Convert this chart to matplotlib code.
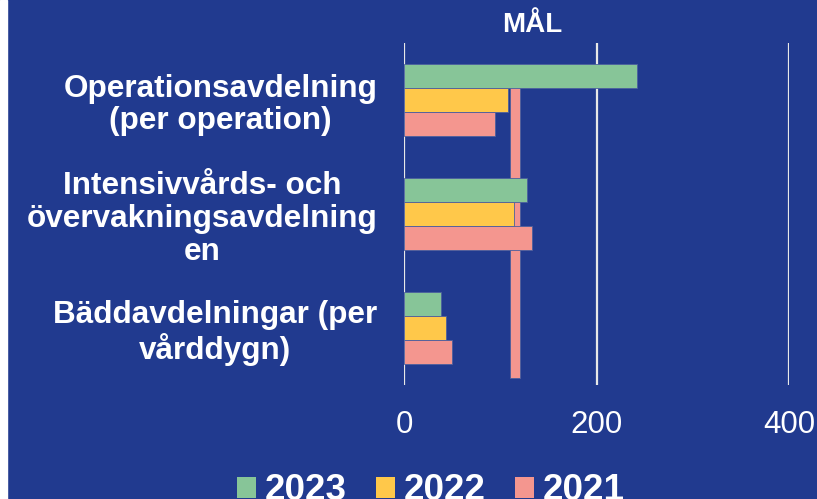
import numpy as np
import matplotlib
matplotlib.use("Agg")
import matplotlib.pyplot as plt
from matplotlib.patches import Patch, Rectangle
import matplotlib.transforms as mtransforms

# data
categories = ["Operationsavdelning\n(per operation)",
              "Intensivvårds- och\növervakningsavdelning\nen",
              "Bäddavdelningar (per\nvårddygn)"]
years = ["2023", "2022", "2021"]
v2023 = [242, 128, 38]
v2022 = [108, 114, 44]
v2021 = [95, 133, 50]
goal = 115
goal_label = "MÅL"
xticks = [0, 200, 400]

bg = "#213A8F"
colors = ["#87C598", "#FFC84A", "#F4968F"]

plt.rcParams["font.family"] = ["Liberation Sans", "DejaVu Sans"]

fig = plt.figure(figsize=(8.17, 4.99), dpi=100, facecolor=bg)
fig.patches.append(Rectangle((0, 0), 7 / 817, 1, transform=fig.transFigure,
                             color="white", zorder=0))
ax = fig.add_axes([404 / 817, 1 - 385 / 499, 385 / 817, 342 / 499])
ax.set_facecolor(bg)

y = np.arange(len(categories))
h = 0.208
series = [v2023, v2022, v2021]
for i, (vals, c) in enumerate(zip(series, colors)):
    ax.barh(y + (i - 1) * h, vals, height=h, color=c, edgecolor="#4b5f9e",
            linewidth=0.6, zorder=3, label=years[i])

# goal marker drawn behind the bars
ax.bar(goal, 2.64, bottom=-0.2, width=10.7, color=colors[2],
       edgecolor="#4b5f9e", linewidth=0.6, zorder=2)
trans = mtransforms.blended_transform_factory(ax.transData, ax.transAxes)
ax.text(goal + 18, 1 + 18 / 342, goal_label, transform=trans, ha="center",
        va="center", color="white", fontsize=20, fontweight="bold")

ax.set_xlim(0, 400)
ax.set_ylim(len(categories) - 0.5, -0.5)
ax.set_xticks(xticks)
ax.set_xticklabels([str(t) for t in xticks])
ax.set_yticks(y)
ax.set_yticklabels(categories, ha="right", multialignment="center",
                   linespacing=1.12)
ax.tick_params(axis="y", length=0, pad=19, labelsize=22.7, labelcolor="white")
for lbl in ax.get_yticklabels():
    lbl.set_fontweight("bold")
ax.tick_params(axis="x", length=0, pad=18, labelsize=22.5, labelcolor="white")
ax.grid(axis="x", color="#e8e8e8", linewidth=1.6, zorder=1)
ax.set_axisbelow(True)
for s in ax.spines.values():
    s.set_visible(False)

handles = [Patch(facecolor=c, edgecolor="none") for c in colors]
fig.legend(handles, years, loc="center", bbox_to_anchor=(431 / 817, 1 - 491 / 499),
           ncol=3, frameon=False, labelcolor="white",
           prop={"size": 26.5, "weight": "bold"}, handlelength=0.52,
           handleheight=0.52, handletextpad=0.25, columnspacing=0.78,
           borderpad=0, borderaxespad=0)

fig.savefig("out.png", dpi=100, facecolor=bg)
